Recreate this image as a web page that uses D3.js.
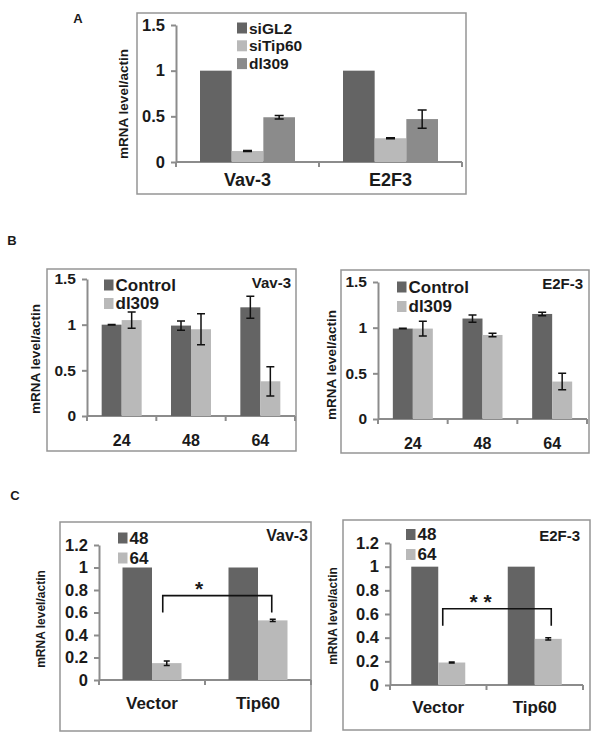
<!DOCTYPE html>
<html>
<head>
<meta charset="utf-8">
<script src="https://cdn.jsdelivr.net/npm/d3@7"></script>
<style>
  body { margin: 0; background: #fff; }
  svg text { font-family: "Liberation Sans", Arial, sans-serif; font-weight: bold; fill: #1a1a1a; }
</style>
</head>
<body>
<div id="fig"></div>
<script>
(function(){

  // ---- data ----
  // panel A
  var aGenes   = ['Vav-3', 'E2F3'];
  var aSeries  = ['siGL2', 'siTip60', 'dl309'];
  var aSiGL2   = [1.0, 1.0],   aSiGL2Err   = [0, 0];
  var aSiTip60 = [0.12, 0.26], aSiTip60Err = [0.005, 0.005];
  var aDl309   = [0.49, 0.47], aDl309Err   = [0.02, 0.1];
  var aYTicks  = [0, 0.5, 1, 1.5];

  // panel B (hours post infection)
  var bHours   = ['24', '48', '64'];
  var bSeries  = ['Control', 'dl309'];
  var bVavCtrl = [1.0, 0.99, 1.19],  bVavCtrlErr = [0.003, 0.05, 0.12];
  var bVavDl   = [1.05, 0.95, 0.38], bVavDlErr   = [0.09, 0.17, 0.16];
  var bE2fCtrl = [0.99, 1.10, 1.15], bE2fCtrlErr = [0.003, 0.04, 0.02];
  var bE2fDl   = [0.99, 0.92, 0.41], bE2fDlErr   = [0.08, 0.02, 0.09];
  var bYTicks  = [0, 0.5, 1, 1.5];

  // panel C
  var cGroups  = ['Vector', 'Tip60'];
  var cSeries  = ['48', '64'];
  var cVav48   = [1, 1],       cVav48Err = [0, 0];
  var cVav64   = [0.15, 0.53], cVav64Err = [0.02, 0.01];
  var cE2f48   = [1, 1],       cE2f48Err = [0, 0];
  var cE2f64   = [0.19, 0.39], cE2f64Err = [0.005, 0.01];
  var cYTicks  = [0, 0.2, 0.4, 0.6, 0.8, 1, 1.2];
  var cVavBracket = [0.6, 0.75], cVavStars = '*';
  var cE2fBracket = [0.5, 0.645], cE2fStars = '* *';

  var dark = '#646464', light = '#b9b9b9', mid = '#8b8b8b';
  var axisGrey = '#8c8c8c';

  var svg = d3.select('#fig').append('svg')
    .attr('width', 602)
    .attr('height', 743);

  svg.append('rect').attr('width', 602).attr('height', 743).attr('fill', '#fff');

  function panel(p) {
    var g = svg.append('g');

    g.append('rect')
      .attr('x', p.frame[0]).attr('y', p.frame[1])
      .attr('width', p.frame[2]).attr('height', p.frame[3])
      .attr('fill', 'none').attr('stroke', '#959595').attr('stroke-width', 1.5);

    var y = d3.scaleLinear().domain([0, p.yMax]).range([p.yBase, p.yTop]);
    var x0 = d3.scaleBand().domain(p.cats).range([p.axisX, p.axisEnd]);
    var n = p.series.length;
    var step = p.groupW / n;
    var x1 = d3.scaleBand()
      .domain(p.series.map(function(s){ return s.name; }))
      .range([0, x0.bandwidth()])
      .paddingOuter((x0.bandwidth() / step - n) / 2);

    // y axis
    var yAxis = g.append('g')
      .attr('transform', 'translate(' + p.axisX + ',0)')
      .call(d3.axisLeft(y).tickValues(p.yTicks).tickSize(5).tickSizeOuter(0).tickPadding(6)
        .tickFormat(function(d){ return String(d); }));
    yAxis.select('.domain').attr('stroke', axisGrey).attr('stroke-width', 2);
    yAxis.selectAll('.tick line').attr('stroke', axisGrey).attr('stroke-width', 2);
    yAxis.selectAll('.tick text')
      .style('font-size', p.tickFont + 'px').attr('fill', '#1a1a1a');

    // x axis: line with ticks on the category boundaries
    g.append('line')
      .attr('x1', p.axisX).attr('x2', p.axisEnd)
      .attr('y1', y(0)).attr('y2', y(0))
      .attr('stroke', axisGrey).attr('stroke-width', 2);

    var bounds = p.cats.map(function(c){ return x0(c); }).concat([p.axisEnd]);
    g.selectAll('.xtick')
      .data(bounds)
      .enter().append('line')
        .attr('x1', function(d){ return d; }).attr('x2', function(d){ return d; })
        .attr('y1', y(0)).attr('y2', y(0) + 5)
        .attr('stroke', axisGrey).attr('stroke-width', 2);

    g.selectAll('.xlabel')
      .data(p.cats)
      .enter().append('text')
        .attr('x', function(d){ return x0(d) + x0.bandwidth() / 2; })
        .attr('y', p.labelY)
        .attr('text-anchor', 'middle')
        .attr('dominant-baseline', 'central')
        .style('font-size', p.catFont + 'px')
        .text(function(d){ return d; });

    // bars + error bars
    p.series.forEach(function(s){
      var sg = g.append('g');
      sg.selectAll('rect')
        .data(s.values)
        .enter().append('rect')
          .attr('x', function(d, i){ return x0(p.cats[i]) + x1(s.name); })
          .attr('y', function(d){ return y(d); })
          .attr('width', x1.bandwidth())
          .attr('height', function(d){ return y(0) - y(d); })
          .attr('fill', s.color);

      s.values.forEach(function(v, i){
        var e = s.errs[i];
        if (!e) return;
        var cx = x0(p.cats[i]) + x1(s.name) + x1.bandwidth() / 2;
        var w = p.capW / 2;
        var path = 'M' + cx + ',' + y(v - e) + 'V' + y(v + e) +
          'M' + (cx - w) + ',' + y(v + e) + 'H' + (cx + w) +
          'M' + (cx - w) + ',' + y(v - e) + 'H' + (cx + w);
        sg.append('path').attr('d', path)
          .attr('stroke', '#111').attr('stroke-width', 1.5).attr('fill', 'none');
      });
    });

    // significance bracket
    if (p.bracket) {
      var sName = p.bracketSeries;
      var bx1 = x0(p.cats[0]) + x1(sName) + x1.bandwidth() / 2 + p.bracketDx[0];
      var bx2 = x0(p.cats[1]) + x1(sName) + x1.bandwidth() / 2 + p.bracketDx[1];
      g.append('path')
        .attr('d', 'M' + bx1 + ',' + y(p.bracket[0]) + 'V' + y(p.bracket[1]) +
                   'H' + bx2 + 'V' + y(p.bracket[0]))
        .attr('fill', 'none').attr('stroke', '#111').attr('stroke-width', 1.6);
      g.append('text')
        .attr('x', x0(p.cats[1]) - 6)
        .attr('y', y(p.bracket[1]) + p.starDy)
        .attr('text-anchor', 'middle')
        .style('font-size', '21px')
        .text(p.stars);
    }

    // legend
    var leg = g.selectAll('.leg')
      .data(p.series)
      .enter().append('g')
        .attr('transform', function(d, i){
          return 'translate(' + p.legend[0] + ',' + (p.legend[1] + i * p.legend[2]) + ')';
        });
    leg.append('rect')
      .attr('x', 0).attr('y', -5.5).attr('width', p.legend[3]).attr('height', 11)
      .attr('fill', function(d){ return d.color; });
    leg.append('text')
      .attr('x', p.legend[3] + 2).attr('y', 0)
      .attr('dominant-baseline', 'central')
      .style('font-size', p.legFont + 'px')
      .text(function(d){ return d.name; });

    if (p.title) {
      g.append('text')
        .attr('x', p.title[0]).attr('y', p.title[1])
        .attr('text-anchor', 'end')
        .attr('dominant-baseline', 'central')
        .style('font-size', p.titleFont + 'px')
        .text(p.title[2]);
    }

    // y axis title
    g.append('text')
      .attr('transform', 'translate(' + p.yTitle[0] + ',' + p.yTitle[1] + ') rotate(-90)')
      .attr('text-anchor', 'middle')
      .attr('dominant-baseline', 'central')
      .style('font-size', p.yTitle[2] + 'px')
      .text('mRNA level/actin');
  }

  function series(names, vals, errs, colors) {
    return names.map(function(nm, i){
      return { name: nm, values: vals[i], errs: errs[i], color: colors[i] };
    });
  }

  // panel letters
  [['A', 78, 18], ['B', 12, 240], ['C', 15, 495]].forEach(function(l){
    svg.append('text')
      .attr('x', l[1]).attr('y', l[2])
      .attr('text-anchor', 'middle')
      .attr('dominant-baseline', 'central')
      .style('font-size', '13px')
      .text(l[0]);
  });

  panel({
    frame: [137, 13, 329, 181],
    cats: aGenes,
    series: series(aSeries, [aSiGL2, aSiTip60, aDl309], [aSiGL2Err, aSiTip60Err, aDl309Err], [dark, light, mid]),
    yMax: 1.5, yBase: 162, yTop: 25, yTicks: aYTicks,
    axisX: 176, axisEnd: 462, groupW: 95,
    labelY: 180, catFont: 18, tickFont: 16.5, capW: 9,
    legend: [237, 28, 17.8, 10], legFont: 15.5,
    yTitle: [123, 104, 13.5]
  });

  panel({
    frame: [47, 269, 249, 182],
    cats: bHours,
    series: series(bSeries, [bVavCtrl, bVavDl], [bVavCtrlErr, bVavDlErr], [dark, light]),
    yMax: 1.5, yBase: 416, yTop: 279, yTicks: bYTicks,
    axisX: 87, axisEnd: 295, groupW: 40,
    labelY: 440, catFont: 16, tickFont: 15.5, capW: 8,
    legend: [104, 285, 18.5, 9.5], legFont: 17,
    title: [291, 282, 'Vav-3'], titleFont: 15,
    yTitle: [35, 359, 13.5]
  });

  panel({
    frame: [341, 270, 248, 183],
    cats: bHours,
    series: series(bSeries, [bE2fCtrl, bE2fDl], [bE2fCtrlErr, bE2fDlErr], [dark, light]),
    yMax: 1.5, yBase: 419, yTop: 282, yTicks: bYTicks,
    axisX: 378, axisEnd: 587, groupW: 40,
    labelY: 443, catFont: 16, tickFont: 15.5, capW: 8,
    legend: [397, 287, 19.5, 9.5], legFont: 17,
    title: [583, 283, 'E2F-3'], titleFont: 15,
    yTitle: [331, 365, 13.5]
  });

  panel({
    frame: [60, 522, 251, 209],
    cats: cGroups,
    series: series(cSeries, [cVav48, cVav64], [cVav48Err, cVav64Err], [dark, light]),
    yMax: 1.2, yBase: 680, yTop: 545, yTicks: cYTicks,
    axisX: 99, axisEnd: 311, groupW: 59,
    labelY: 703, catFont: 17, tickFont: 16.5, capW: 6,
    legend: [118, 538, 20, 9.5], legFont: 17,
    title: [308, 535, 'Vav-3'], titleFont: 16,
    yTitle: [41, 619, 12],
    bracket: cVavBracket, bracketSeries: '64', bracketDx: [-4, -1], stars: cVavStars, starDy: 0
  });

  panel({
    frame: [343, 520, 247, 210],
    cats: cGroups,
    series: series(cSeries, [cE2f48, cE2f64], [cE2f48Err, cE2f64Err], [dark, light]),
    yMax: 1.2, yBase: 685, yTop: 543, yTicks: cYTicks,
    axisX: 390, axisEnd: 583, groupW: 54,
    labelY: 707, catFont: 17, tickFont: 16.5, capW: 6,
    legend: [406, 534.5, 20, 9.5], legFont: 17,
    title: [580, 535, 'E2F-3'], titleFont: 15,
    yTitle: [333, 616, 12],
    bracket: cE2fBracket, bracketSeries: '64', bracketDx: [-9, 3], stars: cE2fStars, starDy: 0
  });

})();
</script>
</body>
</html>
